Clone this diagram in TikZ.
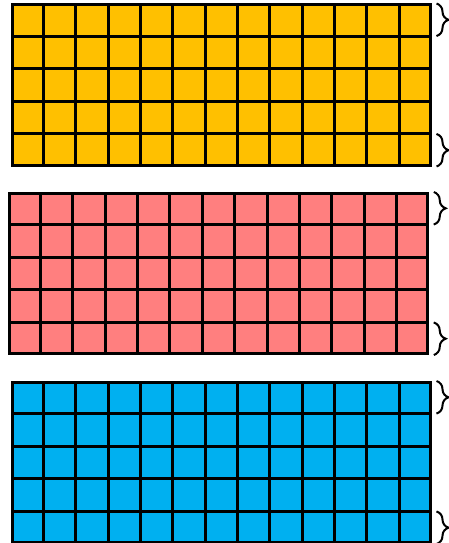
\documentclass[tikz,border=0pt]{standalone}
\usetikzlibrary{decorations.pathreplacing,calc}
\definecolor{blockyellow}{HTML}{FFC000}
\definecolor{blockpink}{HTML}{FF7F7F}
\definecolor{blockblue}{HTML}{00B0F0}
\begin{document}
\begin{tikzpicture}[x=1pt,y=-1pt,
  block/.style={draw,line width=3pt,inner sep=0pt,minimum width=417.5pt,minimum height=160pt},
  gridline/.style={line width=3pt},
  rowbrace/.style={decorate,decoration={brace,amplitude=12pt},line width=2pt}]
\useasboundingbox (0,0) rectangle (449,543);
\node[block,fill=blockyellow] (yellow) at (221.25,85) {};
\node[block,fill=blockpink] (pink) at (218.5,273.5) {};
\node[block,fill=blockblue] (blue) at (221.25,462.5) {};
\foreach \b in {yellow,pink,blue}{
  \foreach \i in {1,...,12}
    \draw[gridline] ($(\b.north west)!{\i/13}!(\b.north east)$) -- ($(\b.south west)!{\i/13}!(\b.south east)$);
  \foreach \j in {1,...,4}
    \draw[gridline] ($(\b.north west)!{\j/5}!(\b.south west)$) -- ($(\b.north east)!{\j/5}!(\b.south east)$);
  \draw[rowbrace] ($(\b.north east)+(5,0)$) -- ($(\b.north east)!0.2!(\b.south east)+(5,0)$);
  \draw[rowbrace] ($(\b.north east)!0.8!(\b.south east)+(5,0)$) -- ($(\b.south east)+(5,0)$);
}
\end{tikzpicture}
\end{document}
